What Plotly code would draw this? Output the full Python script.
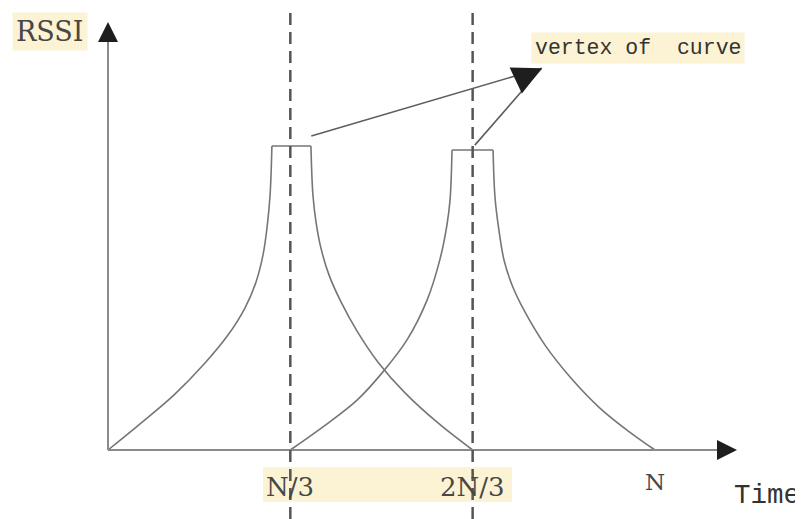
import plotly.graph_objects as go

# curve points (x in units where N = 3, y relative to first peak)
# each curve = rising side, flat top, falling side
curve1_rise_x = [0, 0.176, 0.367, 0.532, 0.658, 0.751, 0.812, 0.850, 0.872, 0.889, 0.899]
curve1_rise_y = [0, 0.086, 0.184, 0.286, 0.378, 0.467, 0.553, 0.641, 0.730, 0.839, 1.0]
curve1_fall_x = [1.113, 1.124, 1.141, 1.168, 1.212, 1.278, 1.366, 1.481, 1.629, 1.810, 2.0]
curve1_fall_y = [1.0, 0.839, 0.750, 0.664, 0.576, 0.487, 0.391, 0.289, 0.188, 0.089, 0]

curve2_rise_x = [1.0, 1.179, 1.366, 1.508, 1.640, 1.750, 1.821, 1.859, 1.876, 1.887]
curve2_rise_y = [0, 0.076, 0.164, 0.257, 0.362, 0.493, 0.628, 0.740, 0.822, 0.987]
curve2_fall_x = [2.112, 2.123, 2.144, 2.172, 2.216, 2.287, 2.397, 2.539, 2.698, 2.852, 3.0]
curve2_fall_y = [0.987, 0.829, 0.724, 0.625, 0.543, 0.454, 0.345, 0.237, 0.138, 0.063, 0]

tick_vals = [1, 2, 3]
tick_text = ["N/3", "2N/3", "N"]
dashed_x = [1, 2]

vertex_tip = (2.379, 1.256)
vertex_tails = [(1.115, 1.033), (2.012, 1.003)]

AXIS_GRAY = "#8a8a8a"
CURVE_GRAY = "#767676"
HEAD = "#1e1e1e"
HILITE = "#fbf3d3"

fig = go.Figure()


def add_line(xs, ys, shape):
    fig.add_trace(go.Scatter(
        x=xs, y=ys, mode="lines",
        line=dict(color=CURVE_GRAY, width=1.6, shape=shape, smoothing=1.0),
        hoverinfo="skip", showlegend=False
    ))


for rx, ry, fx, fy in [(curve1_rise_x, curve1_rise_y, curve1_fall_x, curve1_fall_y),
                       (curve2_rise_x, curve2_rise_y, curve2_fall_x, curve2_fall_y)]:
    add_line(rx, ry, "spline")
    add_line([rx[-1], fx[0]], [ry[-1], fy[0]], "linear")
    add_line(fx, fy, "spline")

shapes = []
# axes
shapes.append(dict(type="line", x0=0, y0=0, x1=3.40, y1=0, xref="x", yref="y",
                   line=dict(color=AXIS_GRAY, width=2)))
shapes.append(dict(type="line", x0=0, y0=0, x1=0, y1=1.36, xref="x", yref="y",
                   line=dict(color=AXIS_GRAY, width=2)))
# dashed guides
for dx in dashed_x:
    shapes.append(dict(type="line", x0=dx, x1=dx, y0=0, y1=1, xref="x", yref="paper",
                       line=dict(color="#555555", width=2.5, dash="12px,7px")))
# highlight band behind N/3 ... 2N/3
shapes.append(dict(type="rect", x0=0.85, x1=2.216, y0=-0.171, y1=-0.056, xref="x", yref="y",
                   fillcolor=HILITE, line=dict(width=0), layer="below"))
# pointer lines to the label
for tx, ty in vertex_tails:
    shapes.append(dict(type="line", x0=tx, y0=ty, x1=vertex_tip[0], y1=vertex_tip[1],
                       xref="x", yref="y", line=dict(color="#5e5e5e", width=1.6)))

annotations = []
# arrow heads (short dark stubs so only the head shows)
annotations.append(dict(x=3.45, y=0, ax=-18, ay=0, xref="x", yref="y", text="",
                        showarrow=True, arrowhead=2, arrowsize=1.6, arrowwidth=2.5,
                        arrowcolor=HEAD, standoff=0))
annotations.append(dict(x=0, y=1.408, ax=0, ay=18, xref="x", yref="y", text="",
                        showarrow=True, arrowhead=2, arrowsize=1.6, arrowwidth=2.5,
                        arrowcolor=HEAD, standoff=0))
annotations.append(dict(x=vertex_tip[0], y=vertex_tip[1], ax=-19, ay=9,
                        xref="x", yref="y", text="",
                        showarrow=True, arrowhead=2, arrowsize=2.3, arrowwidth=2.5,
                        arrowcolor=HEAD, standoff=0))

serif = "DejaVu Serif"
mono = "Liberation Mono"

annotations.append(dict(x=-0.318, y=1.377, xref="x", yref="y", text="RSSI", showarrow=False,
                        font=dict(family=serif, size=27, color="#474747"),
                        bgcolor=HILITE, borderpad=3))
annotations.append(dict(x=2.905, y=1.324, xref="x", yref="y", text="vertex of  curve",
                        showarrow=False, font=dict(family=mono, size=21.5, color="#333333"),
                        bgcolor=HILITE, borderpad=3))

label_y = [-0.122, -0.122, -0.104]
label_size = [26, 26, 23]
for tv, tt, ly, ls in zip(tick_vals, tick_text, label_y, label_size):
    annotations.append(dict(x=tv, y=ly, xref="x", yref="y", text=tt, showarrow=False,
                            font=dict(family=serif, size=ls, color="#474747")))

annotations.append(dict(x=3.612, y=-0.150, xref="x", yref="y", text="Time", showarrow=False,
                        font=dict(family=mono, size=27.5, color="#333333")))

# the page body adds an 8px margin, so the figure is 8px smaller than the window
fig.update_layout(
    width=795, height=511, autosize=False,
    margin=dict(l=0, r=0, t=0, b=0),
    paper_bgcolor="white", plot_bgcolor="white",
    xaxis=dict(range=[-0.5485, 3.812], visible=False, fixedrange=True),
    yaxis=dict(range=[-0.227, 1.454], visible=False, fixedrange=True),
    shapes=shapes,
    annotations=annotations,
    showlegend=False
)

fig.write_html("out.html")
